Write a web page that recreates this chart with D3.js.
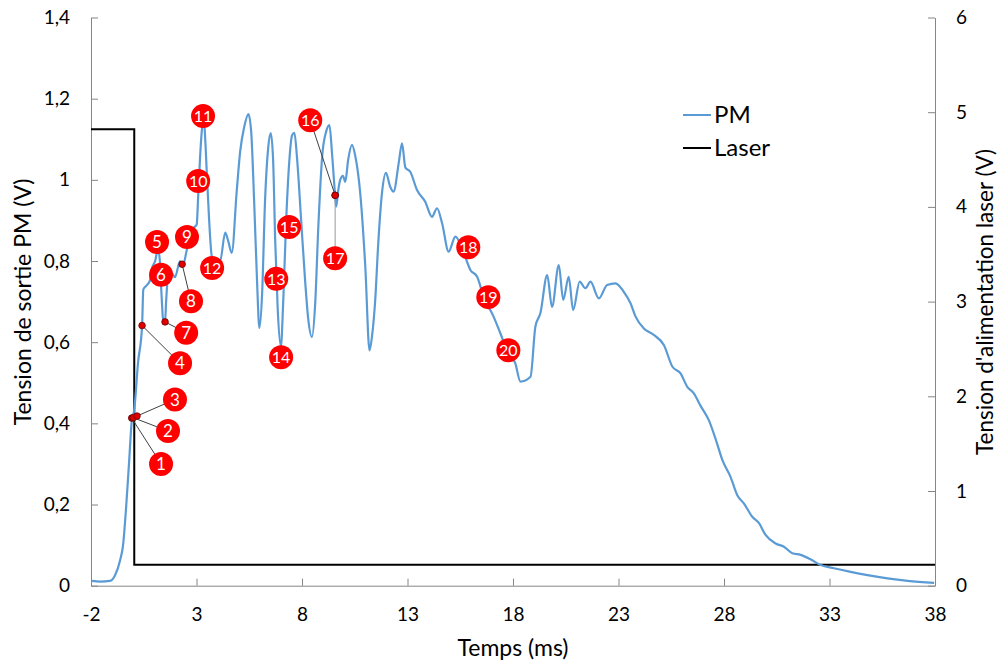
<!DOCTYPE html>
<html><head><meta charset="utf-8">
<script src="https://cdn.jsdelivr.net/npm/d3@7"></script>
<style>
body{margin:0;background:#fff;}
text{font-family:Lato,"Open Sans",sans-serif;}
</style></head>
<body><svg id="c" width="1000" height="662"></svg>
<script>
// PM series (time ms, voltage V)
const pmTime = [-1.95,-1.57,-1.10,-0.86,-0.62,-0.48,-0.34,-0.20,-0.06,0.04,0.23,0.42,0.48,0.64,0.80,0.88,1.04,1.18,1.27,1.34,1.42,1.51,1.56,1.65,1.83,1.98,2.22,2.36,2.54,2.84,3.01,3.08,3.17,3.25,3.33,3.38,3.49,3.60,3.73,3.88,4.12,4.36,4.50,4.67,4.91,5.07,5.26,5.46,5.59,5.73,5.87,5.98,6.11,6.25,6.40,6.52,6.63,6.73,6.85,7.00,7.11,7.25,7.39,7.53,7.64,7.77,7.96,8.15,8.29,8.47,8.63,8.77,8.96,9.15,9.30,9.43,9.57,9.62,9.72,9.81,9.94,10.05,10.19,10.37,10.52,10.76,11.00,11.20,11.33,11.47,11.61,11.79,11.98,12.18,12.34,12.58,12.74,12.90,13.13,13.45,13.84,14.16,14.40,14.64,14.95,15.27,15.59,15.98,16.30,16.61,17.08,17.40,17.72,18.11,18.35,18.83,19.06,19.30,19.62,19.85,20.17,20.38,20.64,20.85,21.16,21.43,21.67,22.07,22.46,22.86,23.25,23.57,23.81,24.20,24.67,25.15,25.55,25.94,26.26,26.57,26.89,27.28,27.60,27.92,28.31,28.63,28.94,29.34,29.66,29.97,30.45,30.84,31.24,31.63,32.10,32.58,33.21,34.00,34.80,35.75,36.70,37.96];
const pmValue = [0.012,0.010,0.012,0.026,0.063,0.10,0.19,0.30,0.41,0.43,0.55,0.64,0.73,0.74,0.753,0.78,0.80,0.83,0.795,0.72,0.655,0.65,0.70,0.76,0.77,0.76,0.80,0.79,0.827,0.88,0.89,0.96,1.056,1.12,1.155,1.13,1.016,0.90,0.81,0.80,0.80,0.87,0.85,0.82,0.975,1.07,1.13,1.162,1.12,0.95,0.75,0.635,0.72,0.95,1.08,1.115,1.05,0.85,0.68,0.589,0.70,0.90,1.04,1.11,1.116,1.05,0.90,0.75,0.66,0.613,0.70,0.88,1.06,1.12,1.135,1.06,0.962,0.934,0.975,1.00,1.01,0.995,1.05,1.086,1.06,0.967,0.786,0.58,0.62,0.704,0.84,0.967,1.017,0.983,0.971,1.04,1.09,1.03,1.02,0.975,0.946,0.909,0.93,0.893,0.823,0.86,0.831,0.778,0.761,0.712,0.663,0.622,0.58,0.548,0.503,0.515,0.638,0.672,0.765,0.687,0.79,0.704,0.761,0.679,0.749,0.733,0.749,0.708,0.741,0.745,0.724,0.696,0.663,0.634,0.618,0.593,0.54,0.523,0.49,0.474,0.443,0.408,0.362,0.31,0.268,0.223,0.203,0.17,0.154,0.125,0.104,0.096,0.08,0.076,0.065,0.051,0.043,0.034,0.026,0.018,0.012,0.007];
// Laser series (time ms, voltage V, right axis)
const laserTime = [-2,0.05,0.05,38];
const laserValue = [4.82,4.82,0.22,0.22];
// Annotation labels
const labelNum = [1,2,3,4,5,6,7,8,9,10,11,12,13,14,15,16,17,18,19,20];
const labelTime = [1.32,1.65,1.98,2.22,1.13,1.32,2.51,2.74,2.55,3.08,3.31,3.74,6.78,7.01,7.39,8.39,9.57,15.88,16.83,17.78];
const labelValue = [0.30,0.381,0.459,0.548,0.847,0.766,0.623,0.701,0.859,0.997,1.157,0.783,0.756,0.563,0.884,1.147,0.807,0.834,0.711,0.580];
// Leader lines: label number -> point on curve
const leaderNum = [1,2,3,4,7,8,16,17];
const leaderTime = [-0.07,0.0,0.18,0.42,1.51,2.32,9.57,9.57];
const leaderValue = [0.413,0.414,0.418,0.641,0.65,0.792,0.962,0.962];
// Ticks
const xTicks = [-2,3,8,13,18,23,28,33,38];
const yLeftTicks = [0,0.2,0.4,0.6,0.8,1.0,1.2,1.4];
const yRightTicks = [0,1,2,3,4,5,6];

const svg = d3.select("#c");
const x = d3.scaleLinear().domain([-2,38]).range([91,935]);
const yL = d3.scaleLinear().domain([0,1.4]).range([585.7,17.5]);
const yR = d3.scaleLinear().domain([0,6]).range([585.7,17.5]);
const fmt = d => String(+d.toFixed(1)).replace(".",",");
const axisColor = "#868686";

function styleAxis(g){
  g.selectAll("path,line").attr("stroke",axisColor).attr("stroke-width",1);
  g.selectAll("text").attr("fill","#000").style("font-size","19px").style("font-family","Lato, 'Open Sans', sans-serif");
}
svg.append("g").attr("transform","translate(0,585.7)")
  .call(d3.axisBottom(x).tickValues(xTicks).tickSize(-7).tickSizeOuter(0).tickPadding(22).tickFormat(d=>String(d)))
  .call(styleAxis);
svg.append("g").attr("transform","translate(91,0)")
  .call(d3.axisLeft(yL).tickValues(yLeftTicks).tickSize(-7).tickSizeOuter(0).tickPadding(21).tickFormat(fmt))
  .call(styleAxis);
svg.append("g").attr("transform","translate(935,0)")
  .call(d3.axisRight(yR).tickValues(yRightTicks).tickSize(-7).tickSizeOuter(0).tickPadding(21).tickFormat(d=>String(d)))
  .call(styleAxis);

// Titles
svg.append("text").attr("x",513).attr("y",656).attr("text-anchor","middle").style("font-size","23px").text("Temps (ms)");
svg.append("text").attr("transform","translate(31,302) rotate(-90)").attr("text-anchor","middle").style("font-size","23px").text("Tension de sortie PM (V)");
svg.append("text").attr("transform","translate(993,302) rotate(-90)").attr("text-anchor","middle").style("font-size","22.5px").text("Tension d'alimentation laser (V)");

// Lines
const pmData = pmTime.map((t,i)=>[t,pmValue[i]]);
const laserData = laserTime.map((t,i)=>[t,laserValue[i]]);
svg.append("path").datum(laserData).attr("fill","none").attr("stroke","#000").attr("stroke-width",2)
  .attr("d",d3.line().x(d=>x(d[0])).y(d=>yR(d[1])));
svg.append("path").datum(pmData).attr("fill","none").attr("stroke","#5b9bd5").attr("stroke-width",2.2)
  .attr("d",d3.line().curve(d3.curveMonotoneX).x(d=>x(d[0])).y(d=>yL(d[1])));

// Leader lines
leaderNum.forEach((n,i)=>{
  const k = labelNum.indexOf(n);
  svg.append("line").attr("x1",x(leaderTime[i])).attr("y1",yL(leaderValue[i]))
    .attr("x2",x(labelTime[k])).attr("y2",yL(labelValue[k]))
    .attr("stroke", n===17 ? "#999" : "#404040").attr("stroke-width",1);
});
leaderNum.forEach((n,i)=>{
  svg.append("circle").attr("cx",x(leaderTime[i])).attr("cy",yL(leaderValue[i])).attr("r",3.3)
    .attr("fill","#e00000").attr("stroke","#600").attr("stroke-width",0.8);
});
// Labels
labelNum.forEach((n,i)=>{
  const g = svg.append("g").attr("transform",`translate(${x(labelTime[i])},${yL(labelValue[i])})`);
  g.append("circle").attr("r",12).attr("fill","#ff0000");
  g.append("text").attr("text-anchor","middle").attr("dy","0.36em").attr("fill","#fff")
    .style("font-size", n>=10 ? "16px" : "17px").text(n);
});

// Legend
const legend = [["PM","#5b9bd5",115],["Laser","#000",148]];
legend.forEach(([name,col,yy])=>{
  svg.append("line").attr("x1",683).attr("x2",711).attr("y1",yy).attr("y2",yy).attr("stroke",col).attr("stroke-width",2);
  svg.append("text").attr("x",714).attr("y",yy).attr("dy","0.35em").style("font-size","24px").attr("fill","#000").text(name);
});
</script></body></html>
